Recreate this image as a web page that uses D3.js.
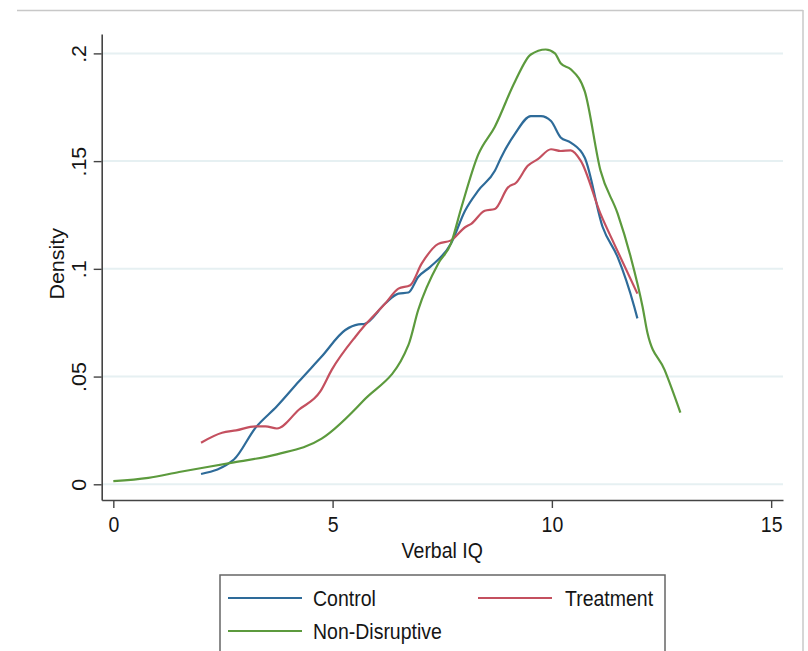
<!DOCTYPE html>
<html>
<head>
<meta charset="utf-8">
<script src="https://cdn.jsdelivr.net/npm/d3@7"></script>
<style>
  body { margin: 0; background: #fff; }
  text { font-family: "Liberation Sans", Arial, Helvetica, sans-serif; fill: #151515; }
</style>
</head>
<body>
<div id="chart"></div>
<script>
// Data (Verbal IQ, density)

var controlX = [2.0, 2.75, 3.24, 3.73, 4.23, 4.75, 5.29, 5.59, 5.72, 6.2, 6.5, 6.73, 6.95, 7.22, 7.7, 8.02, 8.32, 8.7, 8.84, 9.15, 9.52, 9.75, 9.98, 10.2, 10.43, 10.75, 11.16, 11.5, 11.88, 11.95];
var controlY = [0.0048, 0.0115, 0.0262, 0.0362, 0.0477, 0.0593, 0.0716, 0.0742, 0.0744, 0.0839, 0.0885, 0.0890, 0.0962, 0.1008, 0.1118, 0.127, 0.1363, 0.1455, 0.1516, 0.1624, 0.1709, 0.1709, 0.1686, 0.161, 0.1586, 0.1516, 0.1193, 0.1054, 0.0823, 0.077];

var treatX = [2.0, 2.48, 2.8, 3.24, 3.47, 3.73, 4.23, 4.72, 4.98, 5.52, 5.74, 6.2, 6.5, 6.77, 7.03, 7.41, 7.7, 8.02, 8.16, 8.47, 8.7, 9.0, 9.19, 9.45, 9.68, 9.98, 10.2, 10.43, 10.66, 11.11, 11.42, 11.95];
var treatY = [0.0193, 0.0239, 0.025, 0.0269, 0.0269, 0.0259, 0.0346, 0.0431, 0.0531, 0.0685, 0.0739, 0.0839, 0.0908, 0.0924, 0.1024, 0.1116, 0.1132, 0.1193, 0.1209, 0.127, 0.1278, 0.1378, 0.1401, 0.1478, 0.1509, 0.1555, 0.1547, 0.155, 0.1501, 0.1255, 0.1116, 0.0885];

var nonDisX = [0.0, 0.8, 1.5, 2.75, 3.73, 4.75, 5.7, 6.73, 6.95, 7.41, 7.7, 7.93, 8.32, 8.7, 9.16, 9.52, 9.86, 10.07, 10.2, 10.43, 10.75, 11.11, 11.5, 11.8, 12.07, 12.18, 12.57, 12.93];
var nonDisY = [0.0015, 0.003, 0.0057, 0.0102, 0.0139, 0.0212, 0.0388, 0.0647, 0.0808, 0.1025, 0.1118, 0.128, 0.153, 0.166, 0.187, 0.1995, 0.2018, 0.20, 0.1954, 0.1926, 0.1824, 0.1455, 0.1256, 0.1053, 0.0822, 0.0702, 0.0531, 0.0333];

var seriesNames = ["Control", "Treatment", "Non-Disruptive"];
var seriesColors = ["#2e6b99", "#c4505f", "#5c9a3d"];

var xTicks = [0, 5, 10, 15];
var yTicks = [0, 0.05, 0.1, 0.15, 0.2];
var yTickLabels = ["0", ".05", ".1", ".15", ".2"];

var svgWidth = 808;
var svgHeight = 651;

var svg = d3.select("#chart")
  .append("svg")
  .attr("width", svgWidth)
  .attr("height", svgHeight);

// outer frame (top and right edges only visible)
svg.append("line")
  .attr("x1", 17).attr("x2", 803).attr("y1", 10.5).attr("y2", 10.5)
  .attr("stroke", "#c8c8c8").attr("stroke-width", 1.5);
svg.append("line")
  .attr("x1", 803).attr("x2", 803).attr("y1", 10).attr("y2", svgHeight)
  .attr("stroke", "#c8c8c8").attr("stroke-width", 1.5);

// scales: plot region runs from the y axis (x=101.7) to 783, y axis from 34 to 500
var xScale = d3.scaleLinear()
  .domain([-0.265, 15.27])
  .range([101.7, 783]);

var yScale = d3.scaleLinear()
  .domain([-0.00729, 0.209])
  .range([500, 34]);

var textScale = 1.1;
var fontSize = "19.5px";

// gridlines
svg.append("g")
  .selectAll("line")
  .data(yTicks)
  .enter()
  .append("line")
  .attr("x1", xScale.range()[0])
  .attr("x2", xScale.range()[1])
  .attr("y1", d => yScale(d))
  .attr("y2", d => yScale(d))
  .attr("stroke", "#e6f0f2")
  .attr("stroke-width", 2);

// curves
var lineGen = d3.line()
  .x(d => xScale(d[0]))
  .y(d => yScale(d[1]))
  .curve(d3.curveMonotoneX);

var seriesData = [
  d3.zip(controlX, controlY),
  d3.zip(treatX, treatY),
  d3.zip(nonDisX, nonDisY)
];

svg.append("g")
  .selectAll("path")
  .data(seriesData)
  .enter()
  .append("path")
  .attr("d", lineGen)
  .attr("fill", "none")
  .attr("stroke", (d, i) => seriesColors[i])
  .attr("stroke-width", 2.2)
  .attr("stroke-linejoin", "round");

// x axis
var xAxis = svg.append("g")
  .attr("transform", `translate(0, ${yScale.range()[0]})`)
  .call(d3.axisBottom(xScale).tickValues(xTicks).tickSize(8).tickSizeOuter(0));

// y axis
var yAxis = svg.append("g")
  .attr("transform", `translate(${xScale.range()[0]}, 0)`)
  .call(d3.axisLeft(yScale).tickValues(yTicks).tickSize(8).tickSizeOuter(0)
    .tickFormat((d, i) => yTickLabels[i]));

[xAxis, yAxis].forEach(function(ax) {
  ax.select(".domain").attr("stroke", "#444").attr("stroke-width", 1.6);
  ax.selectAll(".tick line").attr("stroke", "#444").attr("stroke-width", 1.4);
  ax.selectAll(".tick text").attr("fill", "#151515").style("font-size", fontSize);
});

xAxis.selectAll(".tick text")
  .attr("y", null).attr("dy", null)
  .attr("transform", `translate(0, 32) scale(1, ${textScale})`);

yAxis.selectAll(".tick text")
  .attr("x", null).attr("dy", null)
  .attr("text-anchor", "middle")
  .attr("transform", `translate(-16, 0) scale(1, ${textScale}) rotate(-90)`);

// axis titles
svg.append("text")
  .attr("transform", `translate(${(xScale(0) + xScale(15)) / 2}, 558) scale(1, ${textScale})`)
  .attr("text-anchor", "middle")
  .style("font-size", fontSize)
  .text("Verbal IQ");

svg.append("text")
  .attr("transform", `translate(64, ${yScale(0.1) - 5}) scale(1, ${textScale}) rotate(-90)`)
  .attr("text-anchor", "middle")
  .style("font-size", fontSize)
  .text("Density");

// legend
var legend = svg.append("g").attr("transform", "translate(220, 575)");

legend.append("rect")
  .attr("x", 0).attr("y", 0)
  .attr("width", 445).attr("height", 90)
  .attr("fill", "#fff")
  .attr("stroke", "#666")
  .attr("stroke-width", 1.5);

var legendPos = [[8, 23], [258, 23], [8, 56]];

var items = legend.selectAll(".item")
  .data(seriesNames)
  .enter()
  .append("g")
  .attr("class", "item")
  .attr("transform", (d, i) => `translate(${legendPos[i][0]}, ${legendPos[i][1]})`);

items.append("line")
  .attr("x1", 0).attr("x2", 74)
  .attr("y1", 0).attr("y2", 0)
  .attr("stroke", (d, i) => seriesColors[i])
  .attr("stroke-width", 2.2);

items.append("text")
  .attr("transform", (d, i) => `translate(${i === 1 ? 87 : 85}, 7.5) scale(1, ${textScale})`)
  .style("font-size", fontSize)
  .text(d => d);
</script>
</body>
</html>
